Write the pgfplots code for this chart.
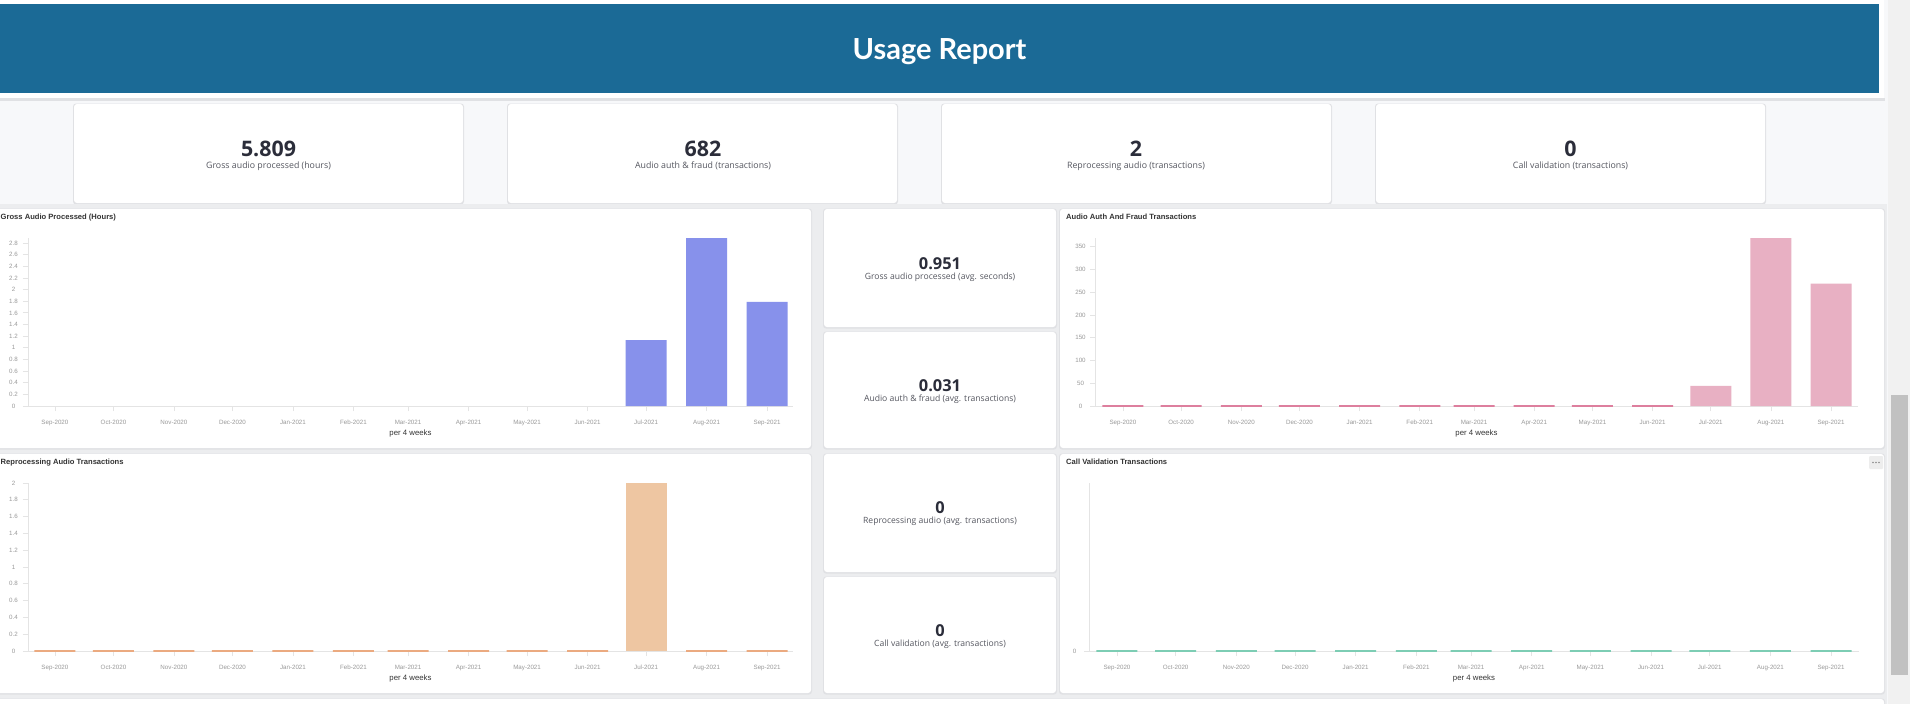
\documentclass[border=0pt]{standalone}
\usepackage{fontspec}
\setmainfont{Open Sans}
\newfontfamily\chartfont{Liberation Sans}
\newfontfamily\latofont{Lato}
\usepackage{pgfplots}
\pgfplotsset{compat=1.18}

\definecolor{bg}{HTML}{F7F8FA}
\definecolor{gapgray}{HTML}{ECEDEF}
\definecolor{shadowc}{HTML}{E0E1E4}
\definecolor{hdrblue}{HTML}{1B6A96}
\definecolor{numcol}{HTML}{2B2D3A}
\definecolor{labcol}{HTML}{555760}
\definecolor{axgray}{HTML}{E4E4E4}
\definecolor{tickgray}{HTML}{999999}
\definecolor{titlecol}{HTML}{333333}
\definecolor{bluebar}{HTML}{8791EB}
\definecolor{pinkbar}{HTML}{E8B0C3}
\definecolor{pinkline}{HTML}{DD7F9E}
\definecolor{orangebar}{HTML}{EEC6A2}
\definecolor{orangeline}{HTML}{EBAA80}
\definecolor{tealline}{HTML}{7DCDB4}
\definecolor{trackgray}{HTML}{F1F1F1}
\definecolor{thumbgray}{HTML}{C1C1C1}

\newcommand\card[4]{%
  \fill[shadowc,rounded corners=3pt] ({#1-1},{#2-0.5}) rectangle ({#3+1},{#4+1.5});
  \fill[white,rounded corners=3pt] (#1,#2) rectangle (#3,#4);}

% months are placed at their day offset from 1 Sep 2020 (time axis)
\pgfplotsset{
  dashstyle/.style={
    scale only axis, clip=false,
    axis x line*=bottom, axis y line*=left,
    axis line style={-, draw=axgray, line width=0.8pt},
    tick style={draw=axgray, line width=0.8pt},
    tick align=outside, major tick length=5pt,
    xtick={0,30,61,91,122,153,181,212,242,273,303,334,365},
    xticklabels={Sep-2020,Oct-2020,Nov-2020,Dec-2020,Jan-2021,Feb-2021,Mar-2021,Apr-2021,May-2021,Jun-2021,Jul-2021,Aug-2021,Sep-2021},
    ticklabel style={font=\chartfont\fontsize{6.2}{7}\selectfont, text=tickgray},
    /pgf/number format/assume math mode=true,
    xticklabel style={anchor=base, yshift=-13pt},
    yticklabel style={anchor=center, xshift=-9.5pt},
    xlabel={per 4 weeks},
    every axis x label/.style={at={(axis description cs:0.5,0)}, anchor=base, yshift=-29.5pt,
      font=\chartfont\fontsize{7.8}{9}\selectfont, text=titlecol},
    ymin=0,
    ybar, bar width=41pt,
    height=168pt,
  }
}

\begin{document}
\begin{tikzpicture}
\begin{scope}[x=1pt,y=-1pt]
\path[use as bounding box] (0,0) rectangle (1920,704);
\clip (0,0) rectangle (1920,704);
\fill[bg] (0,0) rectangle (1920,704);
% header
\fill[shadowc] (0,98) rectangle (1885,100.5);
\fill[white] (0,0) rectangle (1884,98);
\fill[hdrblue] (0,4) rectangle (1879,93);
\node[anchor=base, text=white, font=\latofont\bfseries\fontsize{29}{34}\selectfont] at (939.5,59) {Usage Report};
% KPI cards
\foreach \x in {74,508,942,1376} {\card{\x}{104}{\x+389}{203}}
\node[anchor=base, text=numcol, font=\bfseries\fontsize{21.4}{25}\selectfont] at (268.5,156) {5.809};
\node[anchor=base, text=labcol, font=\fontsize{8.8}{10}\selectfont] at (268.5,168) {Gross audio processed (hours)};
\node[anchor=base, text=numcol, font=\bfseries\fontsize{21.4}{25}\selectfont] at (703,156) {682};
\node[anchor=base, text=labcol, font=\fontsize{8.8}{10}\selectfont] at (703,168) {Audio auth \& fraud (transactions)};
\node[anchor=base, text=numcol, font=\bfseries\fontsize{21.4}{25}\selectfont] at (1136,156) {2};
\node[anchor=base, text=labcol, font=\fontsize{8.8}{10}\selectfont] at (1136,168) {Reprocessing audio (transactions)};
\node[anchor=base, text=numcol, font=\bfseries\fontsize{21.4}{25}\selectfont] at (1570.5,156) {0};
\node[anchor=base, text=labcol, font=\fontsize{8.8}{10}\selectfont] at (1570.5,168) {Call validation (transactions)};
% chart area
\fill[gapgray] (0,204) rectangle (1887,704);
\card{-6}{209}{811}{448}
\card{824}{209}{1056}{327}
\card{824}{332}{1056}{448}
\card{1060}{209}{1884}{448}
\card{-6}{454}{811}{693}
\card{824}{454}{1056}{572}
\card{824}{577}{1056}{693}
\card{1060}{454}{1884}{693}
\card{-6}{699}{1884}{730}
% titles
\node[anchor=base west, inner sep=0, text=titlecol, font=\chartfont\bfseries\fontsize{7.6}{9}\selectfont] at (0.5,219.5) {Gross Audio Processed (Hours)};
\node[anchor=base west, inner sep=0, text=titlecol, font=\chartfont\bfseries\fontsize{7.6}{9}\selectfont] at (1066,219.5) {Audio Auth And Fraud Transactions};
\node[anchor=base west, inner sep=0, text=titlecol, font=\chartfont\bfseries\fontsize{7.6}{9}\selectfont] at (0.5,464.5) {Reprocessing Audio Transactions};
\node[anchor=base west, inner sep=0, text=titlecol, font=\chartfont\bfseries\fontsize{7.6}{9}\selectfont] at (1066,464.5) {Call Validation Transactions};
% middle cards
\node[anchor=base, text=numcol, font=\bfseries\fontsize{16.4}{19}\selectfont] at (940,269) {0.951};
\node[anchor=base, text=labcol, font=\fontsize{8.6}{10}\selectfont] at (940,279) {Gross audio processed (avg. seconds)};
\node[anchor=base, text=numcol, font=\bfseries\fontsize{16.4}{19}\selectfont] at (940,391.7) {0.031};
\node[anchor=base, text=labcol, font=\fontsize{8.6}{10}\selectfont] at (940,401.7) {Audio auth \& fraud (avg. transactions)};
\node[anchor=base, text=numcol, font=\bfseries\fontsize{16.4}{19}\selectfont] at (940,513.3) {0};
\node[anchor=base, text=labcol, font=\fontsize{8.6}{10}\selectfont] at (940,523.7) {Reprocessing audio (avg. transactions)};
\node[anchor=base, text=numcol, font=\bfseries\fontsize{16.4}{19}\selectfont] at (940,636) {0};
\node[anchor=base, text=labcol, font=\fontsize{8.6}{10}\selectfont] at (940,646.3) {Call validation (avg. transactions)};
% menu button
\fill[black!7, rounded corners=1pt] (1869,456) rectangle (1883,469);
\foreach \dx in {-3,0,3} {\fill[black!45] (1876+\dx,462.5) circle (0.9);}
% scrollbar
\fill[trackgray] (1888,0) rectangle (1910,704);
\fill[white] (1910,0) rectangle (1920,704);
\fill[thumbgray] (1891,395) rectangle (1908,675);
% axis anchors
\coordinate (pA) at (28,406);
\coordinate (pB) at (1095,406);
\coordinate (pC) at (28,651);
\coordinate (pD) at (1089,651);
\end{scope}

% Panel A
\begin{axis}[dashstyle, at={(pA)}, anchor=south west, width=765pt,
  xmin=-13.8, xmax=378.3, ymax=2.887,
  ytick={0,0.2,0.4,0.6,0.8,1,1.2,1.4,1.6,1.8,2,2.2,2.4,2.6,2.8},
  yticklabels={0,0.2,0.4,0.6,0.8,1,1.2,1.4,1.6,1.8,2,2.2,2.4,2.6,2.8}]
\addplot[bar shift=0pt, fill=bluebar, draw=none] coordinates {(303,1.134) (334,2.887) (365,1.788)};
\end{axis}

% Panel B
\begin{axis}[dashstyle, at={(pB)}, anchor=south west, width=763pt,
  xmin=-14.4, xmax=378.9, ymax=369,
  ytick={0,50,100,150,200,250,300,350},
  yticklabels={0,50,100,150,200,250,300,350}]
\addplot[bar shift=0pt, draw=pinkline, line width=1.6pt, fill=none] coordinates {(0,0) (30,0) (61,0) (91,0) (122,0) (153,0) (181,0) (212,0) (242,0) (273,0)};
\addplot[bar shift=0pt, fill=pinkbar, draw=none] coordinates {(303,44) (334,369) (365,269)};
\end{axis}

% Panel C
\begin{axis}[dashstyle, at={(pC)}, anchor=south west, width=765pt,
  xmin=-13.8, xmax=378.3, ymax=2,
  ytick={0,0.2,0.4,0.6,0.8,1,1.2,1.4,1.6,1.8,2},
  yticklabels={0,0.2,0.4,0.6,0.8,1,1.2,1.4,1.6,1.8,2}]
\addplot[bar shift=0pt, draw=orangeline, line width=1.6pt, fill=none] coordinates {(0,0) (30,0) (61,0) (91,0) (122,0) (153,0) (181,0) (212,0) (242,0) (273,0) (334,0) (365,0)};
\addplot[bar shift=0pt, fill=orangebar, draw=none] coordinates {(303,2)};
\end{axis}

% Panel D
\begin{axis}[dashstyle, at={(pD)}, anchor=south west, width=770pt,
  xmin=-14.3, xmax=379.3, ymax=1,
  ytick={0}, yticklabels={0}]
\addplot[bar shift=0pt, draw=tealline, line width=1.6pt, fill=none] coordinates {(0,0) (30,0) (61,0) (91,0) (122,0) (153,0) (181,0) (212,0) (242,0) (273,0) (303,0) (334,0) (365,0)};
\end{axis}
\end{tikzpicture}
\end{document}
